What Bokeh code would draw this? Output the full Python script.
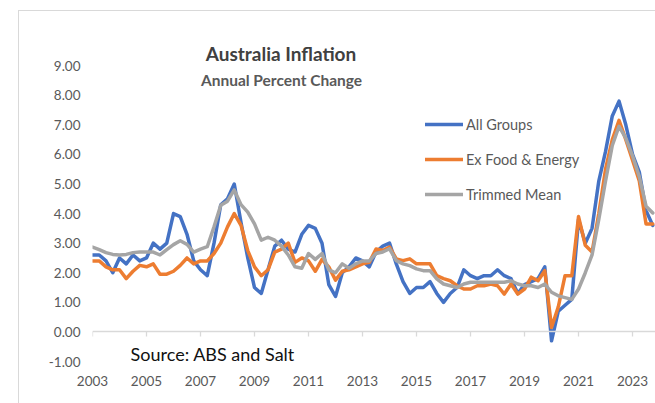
from bokeh.plotting import figure
from bokeh.models import (Range1d, LinearAxis, FixedTicker, NumeralTickFormatter,
                          Legend, LegendItem, Label)
from bokeh.embed import file_html
from bokeh.resources import INLINE

# ---- data (annual % change, quarterly, first point plotted at the 2003 tick) ----
start_year = 2003
all_groups = [2.6, 2.6, 2.4,
              2.0, 2.5, 2.3, 2.6,
              2.4, 2.5, 3.0, 2.8,
              3.0, 4.0, 3.9, 3.3,
              2.4, 2.1, 1.9, 3.0,
              4.3, 4.5, 5.0, 3.7,
              2.5, 1.5, 1.3, 2.1,
              2.9, 3.1, 2.8, 2.7,
              3.3, 3.6, 3.5, 3.0,
              1.6, 1.2, 2.0, 2.2,
              2.5, 2.4, 2.2, 2.7,
              2.9, 3.0, 2.3, 1.7,
              1.3, 1.5, 1.5, 1.7,
              1.3, 1.0, 1.3, 1.5,
              2.1, 1.9, 1.8, 1.9,
              1.9, 2.1, 1.9, 1.8,
              1.3, 1.6, 1.7, 1.8,
              2.2, -0.3, 0.7, 0.9,
              1.1, 3.8, 3.0, 3.5,
              5.1, 6.1, 7.3, 7.8,
              7.0, 6.0, 5.4, 4.1,
              3.6]
ex_food_energy = [2.4, 2.4, 2.2, 2.1, 2.1, 1.8, 2.05, 2.25, 2.2, 2.3,
                  1.95, 1.95, 2.05, 2.25, 2.5, 2.3, 2.4, 2.4, 2.65, 3.0,
                  3.55, 4.0, 3.6, 2.75, 2.2, 1.9, 2.1, 2.7, 2.8, 3.0,
                  2.35, 2.5, 2.4, 2.05, 2.45, 2.2, 1.75, 2.05, 2.1, 2.2,
                  2.3, 2.35, 2.8, 2.75, 2.87, 2.47, 2.41, 2.47, 2.3, 2.3,
                  2.3, 1.9, 1.8, 1.73, 1.56, 1.45, 1.45, 1.56, 1.56, 1.62,
                  1.56, 1.28, 1.62, 1.28, 1.45, 1.85, 1.73, 2.07, 0.15, 0.85,
                  1.9, 1.9, 3.9, 2.93, 2.7, 4.0, 5.5, 6.5, 7.15, 6.5,
                  5.8, 5.1, 3.65, 3.65]
trimmed_mean = [2.87, 2.78, 2.68, 2.62, 2.6, 2.62, 2.68, 2.7, 2.7, 2.7,
                2.6, 2.78, 2.95, 3.08, 2.96, 2.7, 2.8, 2.88, 3.55, 4.28,
                4.42, 4.8, 4.3, 4.05, 3.65, 3.1, 3.2, 3.1, 2.9, 2.6,
                2.2, 2.15, 2.65, 2.45, 2.65, 2.1, 2.0, 2.3, 2.15, 2.3,
                2.4, 2.4, 2.65, 2.7, 2.81, 2.41, 2.3, 2.24, 2.13, 2.07,
                2.07, 1.79, 1.62, 1.56, 1.5, 1.62, 1.68, 1.68, 1.68, 1.68,
                1.68, 1.68, 1.73, 1.62, 1.56, 1.56, 1.5, 1.62, 1.34, 1.22,
                1.16, 1.1, 1.45, 2.0, 2.6, 3.8, 5.1, 6.3, 6.95, 6.55,
                5.95, 5.25, 4.25, 4.02]
tick_years = [2003, 2005, 2007, 2009, 2011, 2013, 2015, 2017, 2019, 2021, 2023]
tick_labels = ["2003", "2005", "2007", "2009", "2011", "2013", "2015", "2017", "2019", "2021", "2023"]
y_ticks = [-1, 0, 1, 2, 3, 4, 5, 6, 7, 8, 9]
series_names = ["All Groups", "Ex Food & Energy", "Trimmed Mean"]
series_colors = ["#4472C4", "#ED7D31", "#A5A5A5"]

x = [start_year + i / 4 for i in range(len(all_groups))]

FONT = "Lato"
GREY_TXT = "#595959"
BORDER = "#D9D9D9"

p = figure(width=655, height=403, output_backend="svg", toolbar_location=None,
           x_range=Range1d(2003, 2023.85), y_range=Range1d(-1, 10.83),
           x_axis_location=None, y_axis_location=None,
           min_border_left=92, min_border_right=0, min_border_top=11, min_border_bottom=42)
p.outline_line_color = None
p.background_fill_color = None
p.border_fill_color = None
p.xgrid.visible = False
p.ygrid.visible = False
# outer chart border (only its top and left edges fall inside the picture)
p.styles = {
    "background": ("linear-gradient(%s, %s) 18px 10px / 1px 100%% no-repeat, "
                   "linear-gradient(%s, %s) 18px 10px / 100%% 1px no-repeat, white")
                  % (BORDER, BORDER, BORDER, BORDER)
}

# y axis (labels only)
yaxis = LinearAxis(ticker=FixedTicker(ticks=y_ticks), formatter=NumeralTickFormatter(format="0.00"))
yaxis.axis_line_color = None
yaxis.major_tick_line_color = None
yaxis.minor_tick_line_color = None
yaxis.major_tick_in = 0
yaxis.major_tick_out = 0
yaxis.minor_tick_in = 0
yaxis.minor_tick_out = 0
yaxis.major_label_standoff = 12
yaxis.major_label_text_font = FONT
yaxis.major_label_text_font_size = "13.5px"
yaxis.major_label_text_color = GREY_TXT
p.add_layout(yaxis, "left")

# category labels at the bottom
xaxis = LinearAxis(ticker=FixedTicker(ticks=tick_years),
                   major_label_overrides=dict(zip(tick_years, tick_labels)))
xaxis.axis_line_color = None
xaxis.major_tick_line_color = None
xaxis.minor_tick_line_color = None
xaxis.major_tick_in = 0
xaxis.major_tick_out = 0
xaxis.minor_tick_in = 0
xaxis.minor_tick_out = 0
xaxis.major_label_standoff = 14
xaxis.major_label_text_font = FONT
xaxis.major_label_text_font_size = "13.5px"
xaxis.major_label_text_color = GREY_TXT
p.add_layout(xaxis, "below")

# horizontal axis line at zero with tick marks
zaxis = LinearAxis(ticker=FixedTicker(ticks=tick_years), fixed_location=0,
                   major_label_overrides={t: "" for t in tick_years})
zaxis.axis_line_color = BORDER
zaxis.axis_line_width = 1.3
zaxis.major_tick_line_color = BORDER
zaxis.major_tick_line_width = 1.3
zaxis.major_tick_in = 0
zaxis.major_tick_out = 5
zaxis.minor_tick_line_color = None
zaxis.minor_tick_in = 0
zaxis.minor_tick_out = 0
zaxis.major_label_standoff = 0
zaxis.major_label_text_font_size = "1px"
p.add_layout(zaxis, "below")

renderers = []
for vals, col in zip([all_groups, ex_food_energy, trimmed_mean], series_colors):
    r = p.line(x, vals, line_color=col, line_width=3.5, line_join="round", line_cap="round")
    renderers.append(r)

legend = Legend(items=[LegendItem(label=n, renderers=[r]) for n, r in zip(series_names, renderers)],
                location=(333, 157), orientation="vertical",
                glyph_width=38, glyph_height=20, label_height=20, label_standoff=3,
                spacing=15, padding=0, margin=0,
                border_line_color=None, background_fill_alpha=0,
                label_text_font=FONT, label_text_font_size="14.5px", label_text_color=GREY_TXT)
p.add_layout(legend)

p.add_layout(Label(x=2009.98, y=9.41, text="Australia Inflation", text_align="center",
                   text_baseline="alphabetic", text_font=FONT, text_font_style="bold",
                   text_font_size="19px", text_color="#404040"))
p.add_layout(Label(x=2010.0, y=8.53, text="Annual Percent Change", text_align="center",
                   text_baseline="alphabetic", text_font=FONT, text_font_style="bold",
                   text_font_size="15.5px", text_color=GREY_TXT))
p.add_layout(Label(x=2004.41, y=-0.73, text="Source: ABS and Salt", text_align="left",
                   text_baseline="alphabetic", text_font=FONT,
                   text_font_size="18px", text_color="#111111"))

open("out.html", "w").write(file_html(p, INLINE))
